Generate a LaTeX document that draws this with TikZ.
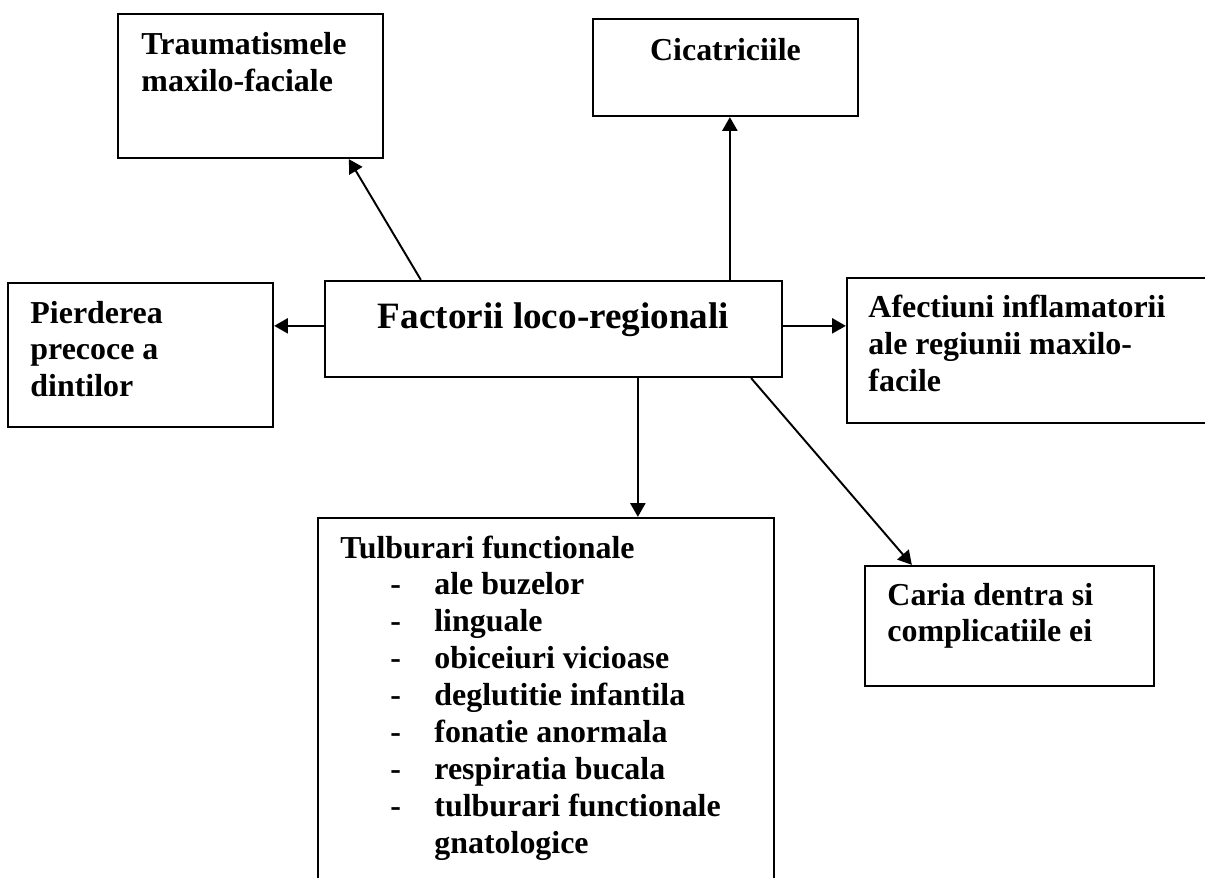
\documentclass[tikz,border=0pt]{standalone}
\usepackage{fontspec}
\setmainfont{Liberation Serif}
\usetikzlibrary{arrows.meta,calc}
\begin{document}
\begin{tikzpicture}[x=0.4386pt,y=-0.4386pt,
  bx/.style n args={2}{draw,line width=1pt,inner sep=0pt,minimum width=#1*0.4386pt,minimum height=#2*0.4386pt},
  lbl/.style={inner sep=0pt,anchor=base west,align=flush left,text width=200pt,font=\bfseries\fontsize{14pt}{16.2pt}\selectfont},
  arr/.style={line width=0.85pt,-{Triangle[length=6pt,width=6.6pt]}}]
\useasboundingbox (0,0) rectangle (1205,878);
\clip (0,0) rectangle (1205,878);
% boxes
\node[bx={265}{144}] (tr) at (250.5,86) {};
\node[bx={265}{97}] (cic) at (725.5,67.5) {};
\node[bx={265}{144}] (pie) at (140.5,355) {};
\node[bx={457}{96}] (fac) at (553.5,329) {};
\node[bx={373}{145}] (afe) at (1033.5,350.5) {};
\node[bx={289}{120}] (car) at (1009.5,626) {};
\node[bx={456}{392}] (tul) at (546,714) {};
% texts
\node[lbl] (trt) at (141,55) {Traumatismele\\maxilo-faciale};
\node[inner sep=0pt,anchor=base,font=\bfseries\fontsize{14pt}{16.2pt}\selectfont] (cict) at (725.5,61) {Cicatriciile};
\node[lbl] (pit) at (30,323) {Pierderea\\precoce a\\dintilor};
\node[inner sep=0pt,anchor=base,font=\bfseries\fontsize{16.3pt}{19pt}\selectfont] (fact) at (553.5,328) {Factorii loco-regionali};
\node[lbl] (aft) at (868,318) {Afectiuni inflamatorii\\ale regiunii maxilo-\\facile};
\node[lbl] (cat) at (887,605) {Caria dentra si\\complicatiile ei};
\node[lbl] (tut) at (340,558) {Tulburari functionale\\
\hspace*{21.9pt}\makebox[19.3pt][l]{-}ale buzelor\\
\hspace*{21.9pt}\makebox[19.3pt][l]{-}linguale\\
\hspace*{21.9pt}\makebox[19.3pt][l]{-}obiceiuri vicioase\\
\hspace*{21.9pt}\makebox[19.3pt][l]{-}deglutitie infantila\\
\hspace*{21.9pt}\makebox[19.3pt][l]{-}fonatie anormala\\
\hspace*{21.9pt}\makebox[19.3pt][l]{-}respiratia bucala\\
\hspace*{21.9pt}\makebox[19.3pt][l]{-}tulburari functionale\\
\hspace*{41.2pt}gnatologice};
% connectors
\draw[arr] ($(fac.north west)+(97,0)$) -- ($(tr.south west)+(232,0)$);
\draw[arr] ($(fac.north west)+(406,0)$) -- ($(cic.south west)+(138,0)$);
\draw[arr] ($(fac.north west)+(0,46)$) -- ($(pie.north east)+(0,44)$);
\draw[arr] ($(fac.north east)+(0,46)$) -- ($(afe.north west)+(0,49)$);
\draw[arr] ($(fac.south west)+(314,0)$) -- ($(tul.north west)+(321,0)$);
\draw[arr] ($(fac.south east)+(-32,0)$) -- ($(car.north west)+(48,0)$);
\end{tikzpicture}
\end{document}
